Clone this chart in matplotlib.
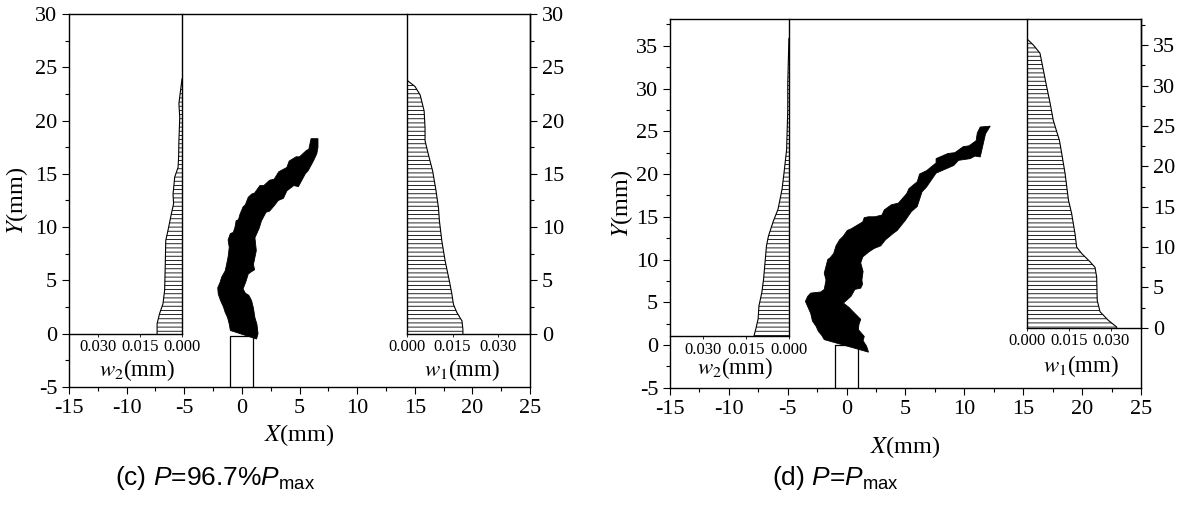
import matplotlib.pyplot as plt
from matplotlib.ticker import MultipleLocator

plt.rcParams['font.family'] = ['Liberation Serif', 'DejaVu Serif']
plt.rcParams['mathtext.fontset'] = 'custom'
plt.rcParams['mathtext.rm'] = 'Liberation Sans'
plt.rcParams['mathtext.it'] = 'Liberation Sans:italic'
plt.rcParams['axes.unicode_minus'] = False
plt.rcParams['hatch.linewidth'] = 0.6

# ---- panel (c): P = 96.7% Pmax ----
# crack outline: left edge bottom->top, then right edge top->bottom
crack_c_x = [-1.0, -1.1, -1.24, -1.45, -1.6, -1.85, -2.05, -2.1, -1.9, -1.76, -1.45, -1.33, -1.2,
             -1.1, -1.2, -1.0, -0.75, -0.6, -0.5, -0.3, -0.17, 0.1, 0.3, 0.55, 0.84, 1.1, 1.56,
             1.9, 2.4, 2.8, 3.2, 3.9, 4.1, 4.7, 5.0, 5.6, 5.8, 6.0, 6.6,
             6.6, 6.5, 6.2, 5.75, 5.5, 4.9, 4.5, 3.9, 3.6, 3.15, 2.8, 2.4, 2.1, 1.7, 1.5, 1.13,
             1.25, 1.0, 1.1, 0.8, 0.55, 0.35, 0.1, 0.3, 0.6, 0.84, 1.0, 1.13, 1.3, 1.4, 1.27]
crack_c_y = [0.3, 0.9, 1.5, 2.0, 2.5, 3.1, 3.7, 4.3, 4.8, 5.3, 5.9, 6.5, 7.2,
             8.1, 8.8, 9.4, 9.5, 10.0, 10.6, 10.7, 11.2, 11.9, 12.1, 12.8, 13.1, 13.2, 13.9,
             13.9, 14.4, 14.5, 15.2, 15.6, 16.2, 16.6, 16.6, 17.2, 17.3, 18.3, 18.3,
             17.5, 16.9, 16.2, 15.3, 15.0, 13.8, 13.9, 13.4, 12.7, 12.5, 12.0, 11.5, 11.4, 10.6, 9.9, 9.0,
             7.8, 6.5, 6.0, 5.8, 5.6, 4.9, 4.2, 3.8, 3.6, 3.1, 2.4, 1.5, 0.9, 0.0, -0.5]
notch_x = [-1, -1, 1, 1]
notch_c_y = [-5, -0.2, -0.2, -5]

w2_c_y = [0, 0.94, 1.9, 2.8, 4.1, 6.25, 8.75, 9.7, 11.25, 12.2, 13.1, 14.7, 15.6, 16.6, 18.1, 20.3, 21.6, 23.9]
w2_c = [0.0089, 0.0089, 0.0080, 0.0068, 0.0062, 0.0060, 0.0058, 0.0050, 0.0038, 0.0030, 0.0032,
        0.0026, 0.0014, 0.0012, 0.0011, 0.0008, 0.0011, 0.0]
w1_c_y = [0, 0.4, 1.2, 2.0, 2.75, 3.7, 4.9, 6.8, 8.7, 10.6, 11.8, 13.4, 15.25, 16.8, 18.1, 19.3, 20.9, 22.4, 23.2, 23.8]
w1_c = [0.0184, 0.0184, 0.0181, 0.0164, 0.0153, 0.0148, 0.0140, 0.0126, 0.0115, 0.0107, 0.0104,
        0.0096, 0.0085, 0.0071, 0.0060, 0.0060, 0.0057, 0.0044, 0.0027, 0.0]

# ---- panel (d): P = Pmax ----
crack_d_x = [1.86, -1.9, -2.1, -2.4, -2.6, -2.9, -3.05, -3.5, -3.3, -3.05, -2.2, -1.9, -1.75, -1.9,
             -1.6, -1.4, -1.1, -0.9, -0.6, -0.3, 0.06, 0.4, 1.37, 1.5, 1.86, 2.4, 3.0, 3.2, 3.8,
             4.4, 5.1, 5.3, 6.0, 6.2, 6.8, 7.6, 7.6, 8.6, 9.2, 9.9, 10.4, 11.0, 11.1, 11.35, 12.2,
             11.8, 11.6, 11.35, 10.9, 10.5, 9.5, 9.1, 8.1, 7.6, 6.8, 6.4, 6.0, 5.5, 5.0, 4.3, 4.0,
             3.3, 2.9, 2.35, 1.9, 1.37, 1.2, 1.4, 1.3, 1.35, 1.2, 0.7, 0.38, -0.27, 0.2, 0.55,
             1.2, 1.05, 1.0, 1.5, 1.4, 1.7]
crack_d_y = [-0.84, 0.63, 1.1, 1.6, 2.2, 2.8, 3.7, 5.1, 5.7, 6.07, 6.2, 6.5, 7.6, 8.4,
             10.0, 10.2, 10.7, 11.6, 12.3, 12.7, 13.4, 13.6, 14.4, 14.9, 15.0, 15.0, 15.2, 15.8, 16.4,
             16.6, 17.7, 18.3, 19.1, 20.0, 20.4, 21.3, 21.8, 22.4, 22.5, 23.2, 23.3, 23.9, 24.8, 25.5, 25.6,
             24.7, 23.5, 22.0, 22.1, 21.8, 21.6, 21.0, 20.4, 20.1, 18.5, 17.9, 16.2, 15.6, 14.6, 13.4, 13.1,
             12.3, 11.6, 11.3, 10.9, 10.3, 9.6, 8.6, 7.6, 7.1, 6.65, 6.5, 5.7, 4.9, 4.4, 3.9,
             3.0, 2.4, 1.8, 1.0, 0.5, -0.15]
notch_d_y = [-5, 0, 0, -5]

w2_d_y = [0, 0.1, 0.9, 2.1, 3.7, 5.3, 6.9, 9.3, 10.9, 12.1, 13.9, 15.3, 17.7, 19.7, 22.5, 27.3, 30.5, 35.9]
w2_d = [0.0121, 0.0121, 0.0115, 0.0107, 0.0104, 0.0094, 0.0088, 0.0082, 0.0078, 0.0071, 0.0054,
        0.0038, 0.0024, 0.0017, 0.0008, 0.0004, 0.0004, 0.0]
w1_d_y = [0, 0.1, 0.95, 2.0, 3.4, 6.3, 7.5, 8.2, 9.2, 10.0, 11.7, 14.2, 15.8, 19.1, 21.6, 23.2,
          25.7, 27.8, 29.8, 31.9, 34.0, 35.0, 35.8]
w1_d = [0.0319, 0.0319, 0.0289, 0.0260, 0.0250, 0.0248, 0.0242, 0.0224, 0.0195, 0.0177, 0.0171,
        0.0159, 0.0148, 0.0136, 0.0124, 0.0116, 0.0094, 0.0083, 0.0071, 0.0059, 0.0047, 0.0024, 0.0]

w_ticks = [0.0, 0.015, 0.030]
w_ticklabels = ['0.000', '0.015', '0.030']
serif_math = dict(math_fontfamily='stix')


def profile(ax, y, w, wmax, invert, label, label_x, label_y, ylim):
    ax.set_facecolor('none')
    ax.fill_betweenx(y, 0, w, facecolor='white', edgecolor='black', hatch='----', linewidth=0)
    ax.plot(w, y, color='black', lw=0.8)
    ax.set_ylim(*ylim)
    if invert:
        ax.set_xlim(wmax, 0)
        ax.spines[['left', 'top']].set_visible(False)
        ax.set_yticks([])
    else:
        ax.set_xlim(0, wmax)
        ax.spines['top'].set_visible(False)
        ax.yaxis.tick_right()
        ax.yaxis.set_major_locator(MultipleLocator(5))
        ax.yaxis.set_minor_locator(MultipleLocator(2.5))
        ax.tick_params(axis='y', which='both', direction='out', labelsize=16, width=0.8)
        ax.tick_params(axis='y', which='major', length=5)
        ax.tick_params(axis='y', which='minor', length=3)
    for s in ax.spines.values():
        s.set_linewidth(1.0)
    ax.set_xticks(w_ticks, w_ticklabels)
    ax.tick_params(axis='x', direction='out', length=2, width=0.6, labelsize=12, pad=2)
    ax.set_xlabel(label, fontsize=16.5, **serif_math)
    ax.xaxis.set_label_coords(label_x, label_y)


def panel(rect, ylim, cx, cy, ny, w2_box, w2y, w2v, w2max, w2lab,
          w1_box, w1y, w1v, w1max, w1lab, wylim, ylab_x, xlab_y):
    ax = fig.add_axes(rect)
    ax.set_xlim(-15, 25)
    ax.set_ylim(*ylim)
    ax.fill(cx, cy, color='black', lw=0.6)
    ax.plot(notch_x, ny, color='black', lw=0.9)
    ax.xaxis.set_major_locator(MultipleLocator(5))
    ax.xaxis.set_minor_locator(MultipleLocator(2.5))
    ax.yaxis.set_major_locator(MultipleLocator(5))
    ax.yaxis.set_minor_locator(MultipleLocator(2.5))
    ax.tick_params(which='both', direction='out', labelsize=16, width=0.8)
    ax.tick_params(which='major', length=5)
    ax.tick_params(which='minor', length=3)
    for s in ax.spines.values():
        s.set_linewidth(1.0)
    ax.set_xlabel('$X$(mm)', fontsize=17.5, **serif_math)
    ax.set_ylabel('$Y$(mm)', fontsize=17.5, **serif_math)
    ax.yaxis.set_label_coords(ylab_x, 0.5)
    ax.xaxis.set_label_coords(0.5, xlab_y)

    a2 = ax.inset_axes(w2_box, transform=ax.transData)
    profile(a2, w2y, w2v, w2max, True, w2lab[0], w2lab[1], w2lab[2], wylim)
    a1 = ax.inset_axes(w1_box, transform=ax.transData)
    profile(a1, w1y, w1v, w1max, False, w1lab[0], w1lab[1], w1lab[2], wylim)
    return ax


fig = plt.figure(figsize=(11.8, 5.32), dpi=100)

panel([0.0585, 0.2726, 0.3907, 0.7011], (-5, 30), crack_c_x, crack_c_y, notch_c_y,
      [-15, 0, 9.8, 30], w2_c_y, w2_c, 0.0404, ('$w_2$(mm)', 0.6, -0.072),
      [14.3, 0, 10.7, 30], w1_c_y, w1_c, 0.0404, ('$w_1$(mm)', 0.45, -0.072),
      (0, 30), -0.085, -0.095)

panel([0.5678, 0.2712, 0.3991, 0.6925], (-5, 38.1), crack_d_x, crack_d_y, notch_d_y,
      [-15, 1.0, 10.1, 37.1], w2_d_y, w2_d, 0.0413, ('$w_2$(mm)', 0.55, -0.058),
      [15.3, 2.0, 9.7, 36.1], w1_d_y, w1_d, 0.0405, ('$w_1$(mm)', 0.475, -0.08),
      (0, 38.2), -0.075, -0.125)

fig.text(215 / 1180, 1 - 478 / 532, r'(c) $P$=96.7%$P_{\rm max}$', fontsize=19,
         family='Liberation Sans', ha='center', va='center')
fig.text(835 / 1180, 1 - 478 / 532, r'(d) $P$=$P_{\rm max}$', fontsize=19,
         family='Liberation Sans', ha='center', va='center')

fig.savefig('out.png', dpi=100)
